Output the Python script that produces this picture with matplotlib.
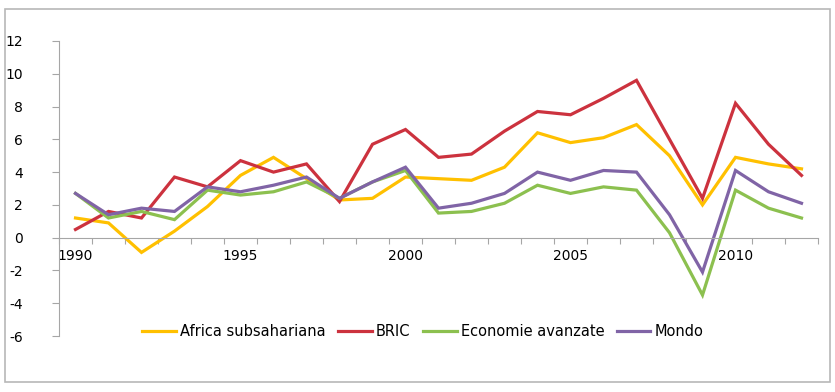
import numpy as np
import matplotlib
matplotlib.use("Agg")
import matplotlib.pyplot as plt
from matplotlib.patches import Rectangle

## Data (tassi di crescita, %)
years = list(range(1990, 2013))
africa = [1.2, 0.9, -0.9, 0.4, 1.9, 3.8, 4.9, 3.6, 2.3, 2.4, 3.7, 3.6, 3.5, 4.3, 6.4, 5.8, 6.1, 6.9, 5.0, 2.0, 4.9, 4.5, 4.2]
bric = [0.5, 1.6, 1.2, 3.7, 3.1, 4.7, 4.0, 4.5, 2.2, 5.7, 6.6, 4.9, 5.1, 6.5, 7.7, 7.5, 8.5, 9.6, 6.0, 2.4, 8.2, 5.7, 3.8]
avanzate = [2.7, 1.2, 1.6, 1.1, 2.9, 2.6, 2.8, 3.4, 2.4, 3.4, 4.1, 1.5, 1.6, 2.1, 3.2, 2.7, 3.1, 2.9, 0.3, -3.5, 2.9, 1.8, 1.2]
mondo = [2.7, 1.4, 1.8, 1.6, 3.1, 2.8, 3.2, 3.7, 2.4, 3.4, 4.3, 1.8, 2.1, 2.7, 4.0, 3.5, 4.1, 4.0, 1.4, -2.1, 4.1, 2.8, 2.1]
labels = ["Africa subsahariana", "BRIC", "Economie avanzate", "Mondo"]
colors = ["#FFC000", "#CC323E", "#8CC04F", "#8064A6"]
yticks = list(range(-6, 13, 2))

plt.rcParams['font.family'] = ['DejaVu Sans']

fig = plt.figure(figsize=(8.35, 3.92), dpi=100)
ax = fig.add_axes([59/835, 1-336/392, (818-59)/835, (336-41)/392])

x = np.arange(len(years))
for serie, lab, col in zip([africa, bric, avanzate, mondo], labels, colors):
    ax.plot(x, serie, color=col, lw=2.3, label=lab, solid_joinstyle='miter')

ax.set_xlim(-0.5, len(years)-0.5)
ax.set_ylim(-6, 12)

gray = "#A6A6A6"
ax.spines['top'].set_visible(False)
ax.spines['right'].set_visible(False)
ax.spines['left'].set_color(gray)
ax.spines['bottom'].set_color(gray)
ax.spines['bottom'].set_position(('data', 0))

ax.set_yticks(yticks)
ax.set_yticklabels([str(v) for v in yticks])
ax.tick_params(axis='y', direction='out', length=5, color=gray, labelsize=10, pad=21)

# category boundaries as tick marks, year labels every 5 categories
ax.set_xticks(np.arange(-0.5, len(years), 1.0))
ax.set_xticklabels([])
ax.tick_params(axis='x', which='major', direction='out', length=4, color=gray)
lab_pos = [i for i, y in enumerate(years) if y % 5 == 0]
ax.set_xticks(lab_pos, minor=True)
ax.set_xticklabels([str(years[i]) for i in lab_pos], minor=True)
ax.tick_params(axis='x', which='minor', length=0, labelsize=10, pad=8)

fig.legend(loc='center', bbox_to_anchor=(423/835, 1-332/392), ncol=4, frameon=False,
           fontsize=10.5, handlelength=2.3, handletextpad=0.3, columnspacing=0.85)

fig.patches.append(Rectangle((5/835, 1-382/392), 825/835, 373/392, transform=fig.transFigure,
                             fill=False, edgecolor="#B8B8B8", lw=1.2))

fig.savefig("out.png", dpi=100)
